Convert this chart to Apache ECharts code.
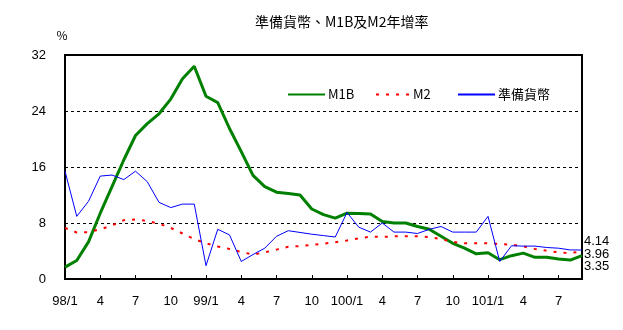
<!DOCTYPE html>
<html>
<head>
<meta charset="utf-8">
<script src="https://cdn.jsdelivr.net/npm/echarts@6/dist/echarts.min.js"></script>
<style>
  html, body { margin: 0; padding: 0; background: #fff; }
  #chart { width: 623px; height: 330px; }
</style>
</head>
<body>
<div id="chart"></div>
<script>
// Monthly categories, 98/1 .. 101/9 (ROC years)
const months = [
  '98/1','98/2','98/3','98/4','98/5','98/6','98/7','98/8','98/9','98/10','98/11','98/12',
  '99/1','99/2','99/3','99/4','99/5','99/6','99/7','99/8','99/9','99/10','99/11','99/12',
  '100/1','100/2','100/3','100/4','100/5','100/6','100/7','100/8','100/9','100/10','100/11','100/12',
  '101/1','101/2','101/3','101/4','101/5','101/6','101/7','101/8','101/9'
];

// Year-on-year growth rates (%)
const m1b = [
  1.7, 2.65, 5.3, 9.4, 13.2, 17.0, 20.5, 22.2, 23.6, 25.7, 28.6, 30.4,
  26.1, 25.2, 21.5, 18.2, 14.8, 13.2, 12.4, 12.2, 12.0, 10.0, 9.2, 8.7,
  9.4, 9.35, 9.3, 8.2, 8.0, 8.0, 7.5, 7.1, 6.1, 5.1, 4.4, 3.6,
  3.75, 2.76, 3.33, 3.7, 3.1, 3.1, 2.85, 2.7, 3.35
];
const m2 = [
  7.3, 6.65, 6.7, 7.1, 7.65, 8.4, 8.5, 8.3, 7.9, 7.3, 6.5, 5.7,
  5.1, 4.65, 4.3, 3.85, 3.5, 3.8, 4.2, 4.6, 4.7, 4.85, 5.05, 5.25,
  5.5, 5.8, 6.05, 6.0, 6.1, 6.1, 6.1, 6.0, 5.7, 5.3, 5.1, 5.1,
  5.1, 5.0, 4.9, 4.65, 4.3, 4.05, 3.8, 3.7, 3.96
];
const reserveMoney = [
  15.4, 8.95, 11.1, 14.7, 14.85, 14.2, 15.4, 13.9, 10.95, 10.2, 10.7, 10.7,
  1.9, 7.1, 6.3, 2.5, 3.5, 4.4, 6.1, 6.9, 6.65, 6.4, 6.2, 6.0,
  9.5, 7.4, 6.7, 8.0, 6.7, 6.7, 6.5, 7.1, 7.5, 6.7, 6.7, 6.7,
  8.95, 2.5, 4.75, 4.7, 4.7, 4.5, 4.4, 4.15, 4.14
];

const yTicks = { min: 0, max: 32, step: 8 };

const numFont = "'Liberation Sans Narrow', 'Liberation Sans', sans-serif";
const cjkFont = "'Noto Sans CJK TC', 'Noto Sans CJK SC', sans-serif";

const chart = echarts.init(document.getElementById('chart'), null, { renderer: 'canvas' });

function endLabel(dy) {
  return {
    show: true,
    distance: 2,
    offset: [0, dy],
    color: '#000',
    fontFamily: numFont,
    fontSize: 13,
    formatter: p => String(p.value)
  };
}

// one legend block per series, each with a plain line key
function legendBlock(name, left, width) {
  return {
    data: [name], left: left, top: 83, itemWidth: width, itemHeight: 14, itemGap: 0,
    itemStyle: { opacity: 0 },
    textStyle: { fontFamily: cjkFont, fontSize: 13, color: '#000', padding: [0, 0, 0, -2] }
  };
}

chart.setOption({
  animation: false,
  backgroundColor: '#fff',
  title: {
    text: '準備貨幣、M1B及M2年增率',
    left: 250,
    top: 10,
    textStyle: { fontFamily: cjkFont, fontSize: 14, fontWeight: 'normal', color: '#000' }
  },
  legend: [
    legendBlock('M1B', 282, 37),
    legendBlock('M2', 370, 34),
    legendBlock('準備貨幣', 452, 37)
  ],
  grid: {
    left: 65, right: 41, top: 55, bottom: 51,
    show: true, borderColor: '#000', borderWidth: 2, backgroundColor: 'transparent'
  },
  xAxis: {
    type: 'category',
    data: months,
    boundaryGap: false,
    axisLine: { show: true, lineStyle: { color: '#000', width: 2 } },
    axisTick: { show: true, inside: true, length: 4, interval: 2, lineStyle: { color: '#000' } },
    axisLabel: {
      interval: 2,
      margin: 16,
      color: '#000',
      fontFamily: numFont,
      fontSize: 13,
      formatter: v => v.endsWith('/1') ? v : v.split('/')[1]
    },
    splitLine: { show: false }
  },
  yAxis: {
    type: 'value',
    min: yTicks.min,
    max: yTicks.max,
    interval: yTicks.step,
    name: '%',
    nameLocation: 'end',
    nameGap: 14,
    nameTextStyle: { color: '#000', fontFamily: cjkFont, fontSize: 12, align: 'center', padding: [0, 6, 0, 0] },
    axisLine: { show: true, lineStyle: { color: '#000', width: 2 } },
    axisTick: { show: false },
    axisLabel: {
      margin: 19,
      color: '#000',
      fontFamily: numFont,
      fontSize: 13,
      padding: [0, 0, 8, 0]
    },
    splitLine: { show: true, lineStyle: { color: '#000', type: [3, 3], width: 1 } }
  },
  series: [
    {
      name: 'M1B', type: 'line', data: m1b, symbol: 'none',
      lineStyle: { color: '#008000', width: 3 }, itemStyle: { color: '#008000' },
      endLabel: endLabel(11)
    },
    {
      name: 'M2', type: 'line', data: m2, symbol: 'none',
      lineStyle: { color: '#ff0000', width: 2, type: [3, 7] }, itemStyle: { color: '#ff0000' },
      endLabel: endLabel(3.5)
    },
    {
      name: '準備貨幣', type: 'line', data: reserveMoney, symbol: 'none',
      lineStyle: { color: '#0000ff', width: 1 }, itemStyle: { color: '#0000ff' },
      endLabel: endLabel(-8.5)
    }
  ]
});
</script>
</body>
</html>
